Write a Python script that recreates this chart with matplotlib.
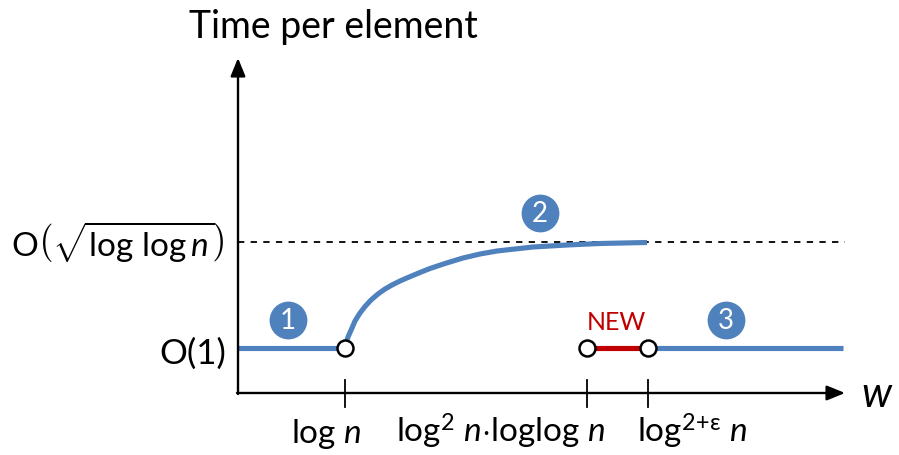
import matplotlib
matplotlib.use("Agg")
import matplotlib.pyplot as plt

plt.rcParams['font.family'] = ['Lato', 'DejaVu Sans']
plt.rcParams['mathtext.fontset'] = 'custom'
plt.rcParams['mathtext.rm'] = 'Lato'
plt.rcParams['mathtext.it'] = 'Lato:italic'
plt.rcParams['mathtext.bf'] = 'Lato:bold'

BLUE = "#4F81BD"
RED = "#C00000"

# schematic coordinates (picture units, y grows downward)
x_origin, y_origin = 238, 393
x_end, y_top = 845, 58
y_o1 = 348
y_sqrt = 242

tick_x = [345, 587, 648]
tick_labels = [r"log $n$", r"log$^2$ $n$$\cdot$loglog $n$", r"log$^{\mathrm{2\!+\!ε}}$ $n$"]
label_left = [291, 396, 637]

# regime 1: constant up to log n
seg1_x = [238, 345]
seg1_y = [348, 348]
# regime 2: rising curve towards sqrt(loglog n)
curve_x = [345, 348, 352, 355, 360, 365, 371, 378, 385, 392, 400, 408, 420, 430,
           445, 463, 480, 497, 515, 533, 567, 600, 647]
curve_y = [347, 337, 328, 321, 313, 306.5, 300, 294, 289, 285, 281, 277.5, 272.5, 268.5,
           263.5, 258, 254, 251, 249, 247, 245, 243.5, 242.5]
# new result segment
new_x = [587, 648]
new_y = [348, 348]
# regime 3: constant again
seg3_x = [648, 843]
seg3_y = [348, 348]

open_pts_x = [345, 587, 648]
open_pts_y = [348, 348, 348]

badge_x = [288, 540, 726]
badge_y = [320, 213, 320]
badge_txt = ["1", "2", "3"]

fig = plt.figure(figsize=(8.99, 4.55), dpi=100)
ax = fig.add_axes([0, 0, 1, 1])
ax.set_xlim(0, 899)
ax.set_ylim(455, 0)
ax.axis("off")

# axes with arrows
ax.annotate("", xy=(x_origin, y_top), xytext=(x_origin, y_origin + 1),
            arrowprops=dict(arrowstyle="-|>,head_length=1.1,head_width=0.45", color="black", lw=1.7,
                            shrinkA=0, shrinkB=0))
ax.annotate("", xy=(x_end, y_origin), xytext=(x_origin - 1, y_origin),
            arrowprops=dict(arrowstyle="-|>,head_length=1.1,head_width=0.45", color="black", lw=1.7,
                            shrinkA=0, shrinkB=0))

# dashed asymptote
ax.plot([x_origin, x_end], [y_sqrt, y_sqrt], ls=(0, (3.5, 3.5)), color="black", lw=1.3)

# ticks
for tx in tick_x:
    ax.plot([tx, tx], [380, 407], color="black", lw=1.3)
for lx, lab in zip(label_left, tick_labels):
    ax.text(lx, 443, lab, ha="left", va="baseline", fontsize=24)

ax.plot(seg1_x, seg1_y, color=BLUE, lw=3.7, solid_capstyle="butt")
ax.plot(curve_x, curve_y, color=BLUE, lw=3.7, solid_capstyle="butt", solid_joinstyle="round")
ax.plot(seg3_x, seg3_y, color=BLUE, lw=3.7, solid_capstyle="butt")
ax.plot(new_x, new_y, color=RED, lw=3.7, solid_capstyle="butt")
ax.plot(open_pts_x, open_pts_y, ls="none", marker="o", ms=11.5, mfc="white", mec="black", mew=1.8)

ax.scatter(badge_x, badge_y, s=740, color=BLUE, zorder=3, lw=0)
for bx, by, bt in zip(badge_x, badge_y, badge_txt):
    ax.text(bx, by + 1, bt, ha="center", va="center", color="white", fontsize=20, zorder=4)

ax.text(616, 323, "NEW", ha="center", va="center", color=RED, fontsize=18)

ax.text(226, 364, "O(1)", ha="right", va="baseline", fontsize=25)
ax.text(224, 242, r"O$\left(\sqrt{\mathrm{log\ log}\,n}\right)$", ha="right", va="center", fontsize=24)

ax.text(333, 38, "Time per element", ha="center", va="baseline", fontsize=27)
ax.text(877, 407, "$w$", ha="center", va="baseline", fontsize=30)

fig.savefig("out.png", dpi=100)
